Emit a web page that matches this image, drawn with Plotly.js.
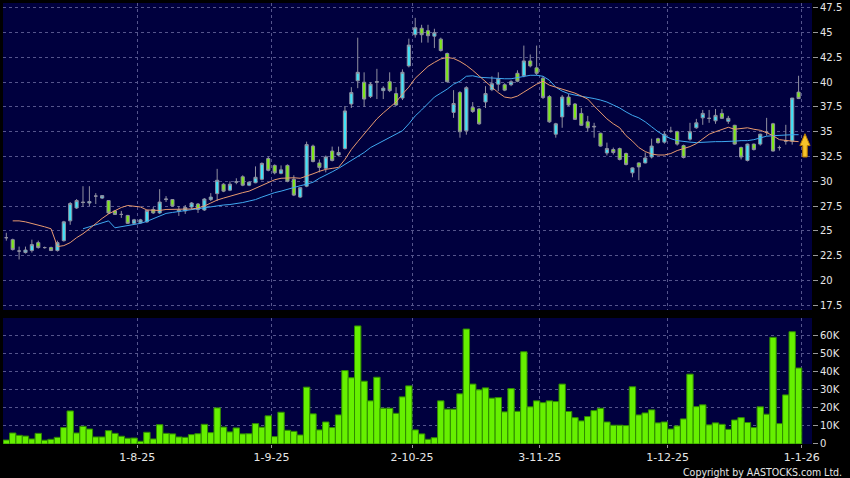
<!DOCTYPE html>
<html><head><meta charset="utf-8">
<script src="https://cdn.plot.ly/plotly-3.0.1.min.js"></script>
<style>html,body{margin:0;padding:0;background:#000;}#chart{width:850px;height:478px;}</style>
</head><body><div id="chart"></div>
<script>
// trading-day index 0..124 (3 Jul 2025 .. 31 Dec 2025)
const openP = [24.3,24.1,22.95,22.8,23.0,23.8,23.3,23.3,23.0,24.0,
 26.0,27.3,27.9,27.8,28.5,28.3,28.05,27.0,26.65,26.55,
 25.75,25.8,25.9,27.15,26.8,28.15,28.15,27.1,27.0,27.4,
 27.7,27.1,28.15,28.75,29.7,29.1,29.9,30.45,29.6,29.85,
 30.2,32.3,31.6,30.8,31.6,30.2,28.4,29.5,33.55,31.85,
 31.3,33.05,32.65,33.3,37.8,40.15,40.0,38.55,40.0,39.15,
 40.05,38.85,38.4,41.65,44.8,45.45,45.2,44.65,44.35,42.9,
 36.95,38.95,35.1,37.45,37.3,38.0,39.25,39.8,39.75,39.75,
 40.9,40.65,42.15,41.45,40.4,38.55,34.75,36.5,38.5,37.8,
 36.85,36.0,35.55,34.85,32.85,33.2,33.3,32.8,30.85,31.85,
 31.85,32.45,34.3,33.95,35.05,35.0,33.6,34.25,35.4,36.4,
 36.35,36.1,36.85,36.05,35.65,33.4,32.1,33.75,33.75,34.95,
 35.8,33.4,34.05,34.05,39.0];
const highP = [24.8,24.2,23.4,23.4,24.1,24.0,23.4,23.4,24.0,26.0,
 27.9,28.2,29.5,29.5,28.8,28.6,28.1,27.1,27.0,26.6,
 26.2,26.2,27.1,27.4,29.2,28.5,28.2,27.5,27.6,27.9,
 27.8,28.3,28.8,31.25,29.8,30.0,30.3,30.6,30.0,31.5,
 31.9,32.5,31.7,31.6,31.7,30.6,29.4,34.0,33.7,32.2,
 32.6,33.5,33.5,37.6,39.5,44.5,41.0,40.0,41.35,39.6,
 41.0,39.5,41.3,44.4,46.5,45.8,45.8,45.4,44.5,43.0,
 39.2,39.1,39.6,38.0,37.4,39.6,40.6,41.0,39.9,40.2,
 41.2,43.7,42.8,43.7,40.6,38.7,35.9,38.7,38.8,37.9,
 37.4,36.6,35.9,34.9,33.9,33.4,33.4,32.9,31.4,31.9,
 32.9,34.3,34.4,35.0,35.5,35.1,33.7,35.9,36.3,37.2,
 37.2,37.3,37.3,36.6,35.7,33.5,33.8,33.8,34.8,36.4,
 35.9,33.6,35.7,38.4,40.65];
const lowP = [24.0,23.0,22.1,22.7,22.8,23.2,23.2,22.95,22.9,23.9,
 25.6,27.2,27.4,27.5,27.7,28.2,26.7,26.6,26.3,25.7,
 25.7,25.7,25.8,26.7,26.7,27.9,27.4,26.5,26.7,27.2,
 26.8,27.0,28.0,28.0,28.9,29.0,29.7,29.5,29.5,29.8,
 30.1,31.0,30.7,30.7,29.9,28.5,28.3,29.4,31.9,30.9,
 30.9,32.0,32.5,33.2,37.4,39.4,37.5,38.4,38.3,38.3,
 39.0,37.6,38.2,41.5,44.5,44.0,44.0,43.45,43.1,40.0,
 36.4,34.4,34.7,36.9,35.7,37.4,39.1,39.1,39.1,39.6,
 40.0,40.5,41.5,40.7,38.3,35.9,34.4,35.4,37.6,36.2,
 35.6,35.0,34.4,33.5,32.6,32.7,32.1,31.6,30.4,30.1,
 31.8,32.3,33.8,33.8,34.9,33.6,32.3,34.1,35.3,35.7,
 35.9,35.8,36.3,35.8,33.7,32.2,32.0,33.1,33.6,34.6,
 33.0,33.1,33.7,33.7,38.3];
const closeP = [24.3,23.1,22.95,23.05,23.6,23.3,23.3,23.0,23.8,25.9,
 27.75,28.05,27.85,27.95,28.5,28.55,26.8,26.65,26.65,25.75,
 26.1,26.1,27.05,26.8,27.9,28.2,27.5,27.0,27.35,27.8,
 27.15,28.2,28.4,30.1,29.0,29.7,29.95,29.6,29.9,30.4,
 31.8,31.1,30.85,31.15,30.0,28.6,29.35,33.7,32.0,31.4,
 32.45,32.1,32.9,37.1,38.95,41.0,38.3,39.8,40.05,39.4,
 39.15,37.7,41.0,43.75,45.5,44.8,44.7,45.0,43.2,40.05,
 37.85,35.0,39.45,37.05,35.8,38.85,39.85,40.35,39.2,40.05,
 40.1,42.15,41.65,40.9,38.45,36.0,35.8,38.5,37.7,36.25,
 35.65,35.4,35.5,33.55,33.3,32.9,32.2,31.7,31.35,31.45,
 32.35,33.55,33.9,34.75,35.05,33.75,32.4,35.0,35.9,36.85,
 36.35,36.65,36.35,36.35,33.75,32.45,33.75,33.2,34.75,34.95,
 33.05,33.4,34.05,38.4,38.35];
const maShort = [null,26.0,26.0,25.9,25.75,25.55,25.4,25.2,23.4,23.5,
 23.8,24.3,24.7,25.2,25.75,26.25,26.7,27.05,27.35,27.55,
 27.5,27.4,27.1,27.05,27.05,27.15,27.15,27.15,27.15,27.2,
 27.3,27.5,27.8,28.1,28.3,28.5,28.7,28.85,29.0,29.3,
 29.6,29.9,30.15,30.3,30.35,30.35,30.3,30.5,30.75,31.0,
 31.2,31.3,31.4,32.2,33.2,34.0,34.8,35.5,36.3,36.9,
 37.5,38.0,38.8,39.5,40.4,41.0,41.6,42.0,42.35,42.5,
 42.4,42.1,41.7,41.2,40.6,40.0,39.5,38.95,38.5,38.4,
 38.6,39.0,39.4,39.8,40.1,39.7,39.5,39.3,39.15,38.9,
 38.6,38.3,37.6,36.9,36.3,35.8,35.4,34.6,34.05,33.4,
 33.0,32.75,32.65,32.65,32.8,33.1,33.3,33.5,33.8,34.3,
 34.75,35.0,35.25,35.45,35.25,35.35,35.4,35.25,35.15,34.9,
 34.6,34.2,34.1,34.05,34.0];
const maLong = [null,null,null,null,null,null,null,null,null,null,null,null,25.2,25.4,25.6,25.8,26.0,25.3,25.4,25.5,
 25.6,25.75,25.95,26.2,26.5,26.75,26.85,26.95,27.05,27.15,
 27.25,27.3,27.4,27.5,27.6,27.65,27.72,27.85,28.0,28.15,
 28.4,28.65,28.85,29.0,29.2,29.35,29.55,29.7,29.9,30.3,
 30.6,30.95,31.3,31.7,32.1,32.5,32.9,33.4,33.75,34.05,
 34.4,34.75,35.1,35.8,36.6,37.2,37.9,38.5,38.9,39.3,
 39.8,40.1,40.6,40.65,40.5,40.45,40.4,40.4,40.35,40.35,
 40.45,40.55,40.7,40.7,40.6,40.2,39.5,39.1,38.85,38.7,
 38.6,38.5,38.35,38.2,38.0,37.7,37.4,37.0,36.65,36.4,
 36.0,35.5,35.0,34.6,34.3,34.1,34.0,33.95,33.9,33.95,
 34.0,34.0,34.0,34.0,34.05,34.1,34.1,34.2,34.35,34.55,
 34.6,34.65,34.65,34.7,34.7];
const volumeK = [2.2,6.1,4.8,4.4,2.8,5.9,2.1,2.6,3.7,9.1,
 18.3,6.1,9.8,8.3,3.9,3.9,7.4,5.9,4.3,3.2,
 3.3,1.5,6.5,2.8,10.7,5.9,5.6,3.9,3.7,5.2,
 5.7,10.9,6.3,20.0,9.4,6.7,8.9,5.6,5.7,11.3,
 9.3,15.6,4.1,17.6,7.6,7.0,5.0,31.5,16.7,7.8,
 12.2,9.1,16.1,40.7,36.7,65.4,34.8,23.9,37.0,19.8,
 19.8,17.0,26.1,32.2,7.8,5.6,2.6,3.5,23.9,19.3,
 19.3,27.8,63.7,33.2,30.0,31.1,25.4,25.7,17.8,30.7,
 18.1,51.1,20.6,23.9,22.9,23.9,23.5,33.2,18.0,14.6,
 12.8,15.2,18.5,19.8,12.2,10.4,10.4,10.2,31.7,16.1,
 17.2,18.9,11.7,12.2,8.3,10.0,13.9,38.7,20.7,21.7,
 10.6,11.7,10.9,8.1,13.3,14.6,11.9,9.1,20.6,16.5,
 59.1,11.3,27.2,62.2,42.1];
// index of the first trading day of each labelled month
const monthStartIdx = [21, 42, 64, 84, 104, 125];
const monthLabels = ['1-8-25','1-9-25','2-10-25','3-11-25','1-12-25','1-1-26'];
const priceTicks = [17.5,20,22.5,25,27.5,30,32.5,35,37.5,40,42.5,45,47.5];
const priceTickText = ['17.5','20','22.5','25','27.5','30','32.5','35','37.5','40','42.5','45','47.5'];
const volTicks = [0,10,20,30,40,50,60];
const volTickText = ['0','10K','20K','30K','40K','50K','60K'];

const idx = openP.map((_, i) => i);
const gridPos = monthStartIdx.map(v => v - 0.5);

const gridColor = '#55558c';
const tickFont = {family: 'DejaVu Sans, sans-serif', size: 10, color: '#e6e6e6'};

const traces = [
  {type: 'bar', x: idx, y: volumeK, xaxis: 'x2', yaxis: 'y2',
   marker: {color: '#66f000', line: {color: '#2f8a00', width: 1}}, hoverinfo: 'skip'},
  {type: 'candlestick', x: idx, open: openP, high: highP, low: lowP, close: closeP,
   xaxis: 'x', yaxis: 'y',
   increasing: {fillcolor: '#3fe3f8', line: {color: '#9090a0', width: 1}},
   decreasing: {fillcolor: '#7de818', line: {color: '#9090a0', width: 1}},
   hoverinfo: 'skip'},
  {type: 'scatter', mode: 'lines', x: idx, y: maLong, xaxis: 'x', yaxis: 'y',
   line: {color: '#3fa8f0', width: 1}, hoverinfo: 'skip'},
  {type: 'scatter', mode: 'lines', x: idx, y: maShort, xaxis: 'x', yaxis: 'y',
   line: {color: '#e89a70', width: 1}, hoverinfo: 'skip'}
];

const layout = {
  width: 850, height: 478,
  margin: {l: 3, r: 38, t: 3, b: 34},
  paper_bgcolor: '#000000', plot_bgcolor: '#00003e',
  showlegend: false, hovermode: false,
  bargap: 0,
  xaxis: {domain: [0, 1], anchor: 'y', range: [-0.52, 126.1],
    tickmode: 'array', tickvals: gridPos, showticklabels: false, ticks: '',
    showgrid: true, gridcolor: gridColor, griddash: '3px,3px', gridwidth: 1,
    zeroline: false, showline: false, rangeslider: {visible: false}},
  yaxis: {domain: [0.3039, 1], anchor: 'x', side: 'right', range: [17.0, 48.0],
    tickmode: 'array', tickvals: priceTicks, ticktext: priceTickText,
    ticks: 'outside', ticklen: 5, tickcolor: '#9a9a9a', tickfont: tickFont,
    showgrid: true, gridcolor: gridColor, griddash: '3px,3px', zeroline: false, showline: false},
  xaxis2: {domain: [0, 1], anchor: 'y2', matches: 'x', range: [-0.52, 126.1],
    tickmode: 'array', tickvals: gridPos, ticktext: monthLabels,
    ticks: 'outside', ticklen: 3, tickcolor: '#9a9a9a',
    tickfont: {family: 'DejaVu Sans, sans-serif', size: 11, color: '#e6e6e6'},
    showgrid: true, gridcolor: gridColor, griddash: '3px,3px', zeroline: false, showline: false},
  yaxis2: {domain: [0, 0.2857], anchor: 'x2', side: 'right', range: [0, 69.8],
    tickmode: 'array', tickvals: volTicks, ticktext: volTickText,
    ticks: 'outside', ticklen: 5, tickcolor: '#9a9a9a', tickfont: tickFont,
    showgrid: true, gridcolor: gridColor, griddash: '3px,3px', zeroline: false, showline: false},
  shapes: [
    {type: 'path', xref: 'x', yref: 'y',
     path: 'M 125.0 34.8 L 125.8 33.6 L 125.35 33.6 L 125.35 32.45 L 124.65 32.45 L 124.65 33.6 L 124.2 33.6 Z',
     fillcolor: '#f6c42a', line: {color: '#b87a00', width: 1}}
  ],
  annotations: [
    {text: 'Copyright by AASTOCKS.com Ltd.', xref: 'paper', yref: 'paper',
     x: 1.0396, y: -0.0635, xanchor: 'right', yanchor: 'middle', showarrow: false,
     font: {family: 'DejaVu Sans Condensed, Liberation Sans Narrow, sans-serif', size: 10.5, color: '#e6e6e6'}}
  ]
};

Plotly.newPlot('chart', traces, layout, {displayModeBar: false, staticPlot: true});
</script>
</body></html>
